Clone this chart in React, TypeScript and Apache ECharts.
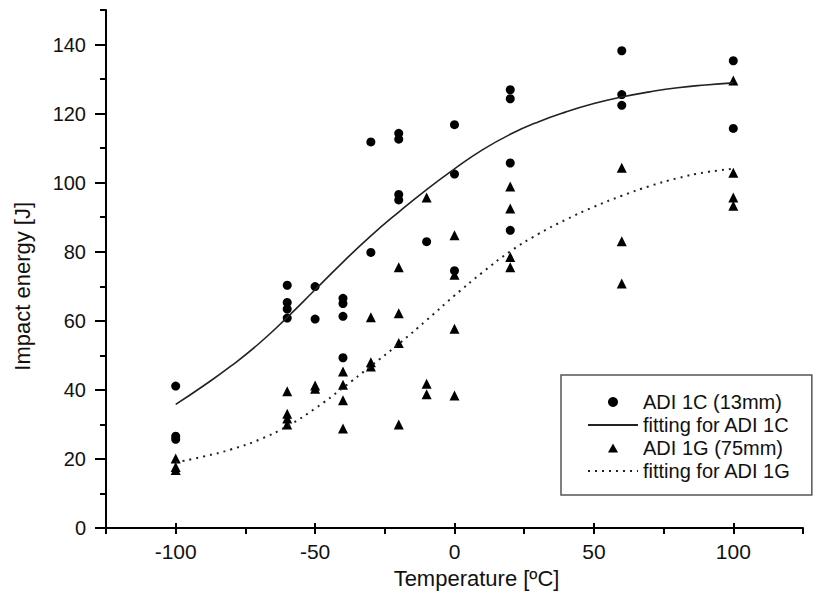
import React, { useEffect, useRef } from "react";
import * as echarts from "echarts";

// ADI 1C (13mm) measured points
const c1Temp = [-100, -100, -100, -60, -60, -60, -60, -50, -50, -40, -40, -40, -40, -30, -30, -20, -20, -20, -20, -10, 0, 0, 0, 20, 20, 20, 20, 60, 60, 60, 100, 100];
const c1Energy = [41.1, 26.6, 25.7, 70.3, 65.3, 63.4, 60.8, 69.9, 60.5, 66.5, 65.0, 61.3, 49.3, 111.8, 79.8, 114.3, 112.6, 96.6, 95.0, 82.9, 116.8, 102.5, 74.5, 126.9, 124.3, 105.7, 86.2, 138.2, 125.5, 122.4, 135.3, 115.7];

// ADI 1G (75mm) measured points
const g1Temp = [-100, -100, -100, -60, -60, -60, -60, -50, -50, -40, -40, -40, -40, -30, -30, -30, -20, -20, -20, -20, -10, -10, -10, 0, 0, 0, 0, 20, 20, 20, 20, 60, 60, 60, 100, 100, 100, 100];
const g1Energy = [20.1, 17.7, 16.8, 39.6, 33.1, 31.7, 30.0, 41.3, 40.3, 45.3, 41.5, 37.0, 28.8, 61.0, 48.0, 46.8, 75.5, 62.2, 53.6, 30.0, 95.7, 41.8, 38.7, 84.8, 73.3, 57.7, 38.4, 98.9, 92.5, 78.5, 75.5, 104.3, 83.0, 70.8, 129.6, 102.9, 95.7, 93.3];

// Fitted curves
const fitTemp = [-100, -90, -80, -70, -60, -50, -40, -30, -20, -10, 0, 10, 20, 30, 40, 50, 60, 70, 80, 90, 100];
const fit1C = [35.8, 41.2, 47, 53.5, 61, 69, 77, 84.6, 91.5, 98, 104, 109.5, 114, 117.6, 120.5, 122.9, 124.8, 126.3, 127.5, 128.3, 128.9];
const fit1G = [19, 20.7, 22.8, 25.6, 29.5, 34.6, 40.6, 46.9, 53.3, 60.2, 67.3, 74, 80.1, 85.1, 89.3, 93, 96.2, 99, 101.3, 103, 104];

const xMajorTicks = [-100, -50, 0, 50, 100];
const yMajorTicks = [0, 20, 40, 60, 80, 100, 120, 140];

const FONT = "'Liberation Sans', Arial, sans-serif";
const INK = "#111";

// legend icon: a 10x9 triangle centred in a 50x10 box (zero-length subpaths fix the box)
const TRI_ICON = "path://M0,0L0,0M50,10L50,10M20,9.5L25,0.5L30,9.5Z";

export default function App() {
  const ref = useRef<HTMLDivElement>(null);

  useEffect(() => {
    if (!ref.current) return;
    const chart = echarts.init(ref.current, undefined, { renderer: "svg" });

    const zip = (xs: number[], ys: number[]) => xs.map((x, i) => [x, ys[i]]);

    const gridLeft = 106;
    const gridRight = 13;
    const gridTop = 10;
    const gridBottom = 66;
    const W = 816;
    const H = 594;
    const plotW = W - gridLeft - gridRight;
    const plotH = H - gridTop - gridBottom;
    const xMin = -125, xMax = 125, yMax = 150;
    const pxPerX = plotW / (xMax - xMin);
    const pxPerY = plotH / yMax;
    const majLeft = gridLeft + (xMajorTicks[0] - xMin) * pxPerX;
    const majRight = W - (gridLeft + (xMajorTicks[xMajorTicks.length - 1] - xMin) * pxPerX);
    const majTop = gridTop + (yMax - yMajorTicks[yMajorTicks.length - 1]) * pxPerY;

    const tickStyle = { color: "#000", width: 2 };

    chart.setOption({
      animation: false,
      backgroundColor: "#fff",
      grid: [
        { left: gridLeft, right: gridRight, top: gridTop, bottom: gridBottom },
        { left: majLeft, right: majRight, top: gridTop, bottom: gridBottom },
        { left: gridLeft, right: gridRight, top: majTop, bottom: gridBottom },
      ],
      xAxis: [
        {
          gridIndex: 0,
          type: "value",
          min: xMin,
          max: xMax,
          interval: 25,
          axisLine: { show: true, onZero: false, lineStyle: { color: "#000", width: 2 } },
          axisTick: { show: true, length: 6, lineStyle: tickStyle },
          axisLabel: { show: false },
          splitLine: { show: false },
        },
        {
          gridIndex: 1,
          type: "value",
          min: xMajorTicks[0],
          max: xMajorTicks[xMajorTicks.length - 1],
          interval: 50,
          axisLine: { show: false, onZero: false },
          axisTick: { show: true, length: 11, lineStyle: tickStyle },
          axisLabel: { show: true, margin: 18, fontSize: 21, fontFamily: FONT, color: INK },
          splitLine: { show: false },
          name: "Temperature [ºC]",
          nameLocation: "middle",
          nameGap: 38,
          nameTextStyle: { fontSize: 22, fontFamily: FONT, color: INK, padding: [0, 0, 0, 44] },
        },
        {
          gridIndex: 2,
          type: "value",
          min: xMin,
          max: xMax,
          show: false,
        },
      ],
      yAxis: [
        {
          gridIndex: 0,
          type: "value",
          min: 0,
          max: yMax,
          interval: 10,
          axisLine: { show: true, onZero: false, lineStyle: { color: "#000", width: 2 } },
          axisTick: { show: true, length: 6, lineStyle: tickStyle },
          axisLabel: { show: false },
          splitLine: { show: false },
        },
        {
          gridIndex: 1,
          type: "value",
          min: 0,
          max: yMax,
          show: false,
        },
        {
          gridIndex: 2,
          type: "value",
          min: yMajorTicks[0],
          max: yMajorTicks[yMajorTicks.length - 1],
          interval: 20,
          axisLine: { show: false, onZero: false },
          axisTick: { show: true, length: 11, lineStyle: tickStyle },
          axisLabel: { show: true, margin: 20, fontSize: 20, fontFamily: FONT, color: INK },
          splitLine: { show: false },
          name: "Impact energy [J]",
          nameLocation: "middle",
          nameGap: 73,
          nameTextStyle: { fontSize: 22, fontFamily: FONT, color: INK },
        },
      ],
      legend: {
        orient: "vertical",
        left: 561,
        top: 375,
        itemWidth: 50,
        itemHeight: 10,
        itemGap: 3,
        padding: [17, 21, 14, 26],
        borderColor: "#555",
        borderWidth: 1.5,
        symbolKeepAspect: true,
        selectedMode: false,
        textStyle: { fontSize: 20, fontFamily: FONT, color: INK },
        data: [
          { name: "ADI 1C (13mm)", icon: "circle" },
          { name: "fitting for ADI 1C", itemStyle: { opacity: 0 } },
          { name: "ADI 1G (75mm)", icon: TRI_ICON },
          { name: "fitting for ADI 1G", itemStyle: { opacity: 0 } },
        ],
      },
      series: [
        {
          name: "ADI 1C (13mm)",
          type: "scatter",
          xAxisIndex: 0,
          yAxisIndex: 0,
          symbol: "circle",
          symbolSize: 9,
          itemStyle: { color: "#000", opacity: 1 },
          data: zip(c1Temp, c1Energy),
        },
        {
          name: "fitting for ADI 1C",
          type: "line",
          xAxisIndex: 0,
          yAxisIndex: 0,
          smooth: true,
          symbol: "none",
          lineStyle: { color: "#222", width: 1.6 },
          itemStyle: { color: "rgba(0,0,0,0)" },
          data: zip(fitTemp, fit1C),
        },
        {
          name: "ADI 1G (75mm)",
          type: "scatter",
          xAxisIndex: 0,
          yAxisIndex: 0,
          symbol: "triangle",
          symbolSize: 10,
          itemStyle: { color: "#000", opacity: 1 },
          data: zip(g1Temp, g1Energy),
        },
        {
          name: "fitting for ADI 1G",
          type: "line",
          xAxisIndex: 0,
          yAxisIndex: 0,
          smooth: true,
          symbol: "none",
          lineStyle: { color: "#222", width: 2, type: [2, 5] },
          itemStyle: { color: "rgba(0,0,0,0)" },
          data: zip(fitTemp, fit1G),
        },
      ],
    });

    return () => chart.dispose();
  }, []);

  return (
    <div
      ref={ref}
      style={{ position: "absolute", left: 0, top: 0, width: 816, height: 594, background: "#fff" }}
    />
  );
}
